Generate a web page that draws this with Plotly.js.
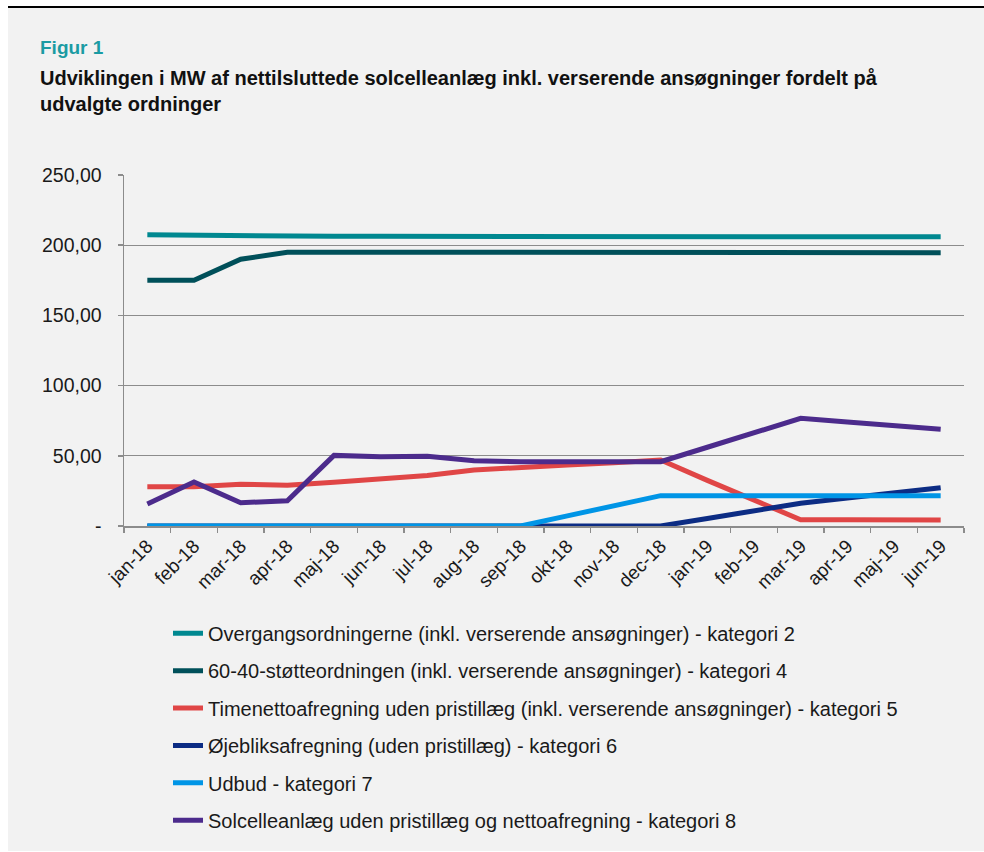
<!DOCTYPE html>
<html>
<head>
<meta charset="utf-8">
<script src="https://cdn.plot.ly/plotly-3.0.1.min.js"></script>
<style>
html,body{margin:0;padding:0;background:#ffffff;}
#frame{position:absolute;left:8px;top:6px;width:976px;height:843px;background:#f2f2f2;border-top:2px solid #000;}
#chart{position:absolute;left:0;top:0;width:984px;height:852px;}
</style>
</head>
<body>
<div id="frame"></div>
<div id="chart"></div>
<script>
const months = ["jan-18","feb-18","mar-18","apr-18","maj-18","jun-18","jul-18","aug-18","sep-18","okt-18","nov-18","dec-18","jan-19","feb-19","mar-19","apr-19","maj-19","jun-19"];

const overgang = [207.5,207.0,207.0,206.3,206.3,206.3,206.3,206.3,206.3,206.3,206.3,206.3,206.3,206.2,206.0,206.0,206.0,206.0];
const stotte6040 = [175.0,175.0,190.0,195.0,195.0,195.0,195.0,195.0,195.0,194.8,194.6,194.4,194.6,194.9,195.2,195.0,194.8,194.7];
const timenetto = [28.0,28.0,29.7,29.0,31.1,33.5,36.0,39.9,42.0,43.5,45.0,47.0,32.5,18.5,4.5,4.5,4.4,4.3];
const ojebliks = [0,0,0,0,0,0,0,0,0,0,0,0,5.4,10.8,16.2,19.9,23.6,27.3];
const udbud = [0,0,0,0,0,0,0,0,0,7.2,14.4,21.6,21.6,21.6,21.6,21.6,21.6,21.6];
const solcelle = [15.7,31.3,16.6,18.0,50.3,49.4,49.6,46.5,45.8,45.7,45.5,45.8,56.1,66.4,76.7,74.1,71.5,68.9];

const seriesNames = [
  "Overgangsordningerne (inkl. verserende ansøgninger) - kategori 2",
  "60-40-støtteordningen (inkl. verserende ansøgninger) - kategori 4",
  "Timenettoafregning uden pristillæg (inkl. verserende ansøgninger) - kategori 5",
  "Øjebliksafregning (uden pristillæg) - kategori 6",
  "Udbud - kategori 7",
  "Solcelleanlæg uden pristillæg og nettoafregning - kategori 8"
];
const seriesValues = [overgang, stotte6040, timenetto, ojebliks, udbud, solcelle];
const seriesColors = ["#008890","#00505a","#e04646","#0c2c84","#0095e6","#4c2b8c"];

const yTickVals = [0,50,100,150,200,250];
const yTickText = ["-","50,00","100,00","150,00","200,00","250,00"];

const traces = seriesValues.map((vals, i) => ({
  type: "scatter",
  mode: "lines",
  x: months,
  y: vals,
  name: seriesNames[i],
  legendgroup: "g" + i,
  line: {color: seriesColors[i], width: 5}
}));

const layout = {
  width: 984,
  height: 852,
  paper_bgcolor: "rgba(0,0,0,0)",
  plot_bgcolor: "rgba(0,0,0,0)",
  margin: {l: 124, r: 20, t: 175, b: 326, autoexpand: false},
  font: {family: "'Liberation Sans', Arial, sans-serif", color: "#1a1a1a", size: 20},
  showlegend: true,
  legend: {
    x: (168 - 124) / 840, xanchor: "left",
    y: -0.250, yanchor: "top",
    orientation: "v",
    bgcolor: "rgba(0,0,0,0)",
    font: {size: 20, color: "#1a1a1a"},
    tracegroupgap: 8.4
  },
  xaxis: {
    type: "category",
    range: [-0.5, 17.5],
    tickangle: -45,
    tickfont: {size: 19, color: "#1a1a1a"},
    showgrid: false,
    showline: true,
    linecolor: "#8c8c8c",
    linewidth: 1.5,
    ticks: "outside",
    tickson: "boundaries",
    ticklen: 5,
    tickcolor: "#8c8c8c",
    tickwidth: 1.5,
    zeroline: false,
    automargin: false
  },
  yaxis: {
    range: [0, 250],
    tickvals: yTickVals,
    ticktext: yTickText,
    tickfont: {size: 19.5, color: "#1a1a1a"},
    showgrid: true,
    gridcolor: "#8c8c8c",
    gridwidth: 1.3,
    showline: true,
    linecolor: "#8c8c8c",
    linewidth: 1.5,
    ticks: "outside",
    ticklen: 5,
    tickcolor: "#8c8c8c",
    tickwidth: 1.5,
    zeroline: false,
    ticklabelstandoff: 12,
    automargin: false
  },
  annotations: [
    {xref: "paper", yref: "paper", x: -86/840, y: 1 + (175-47)/351, xanchor: "left", yanchor: "middle",
     text: "<b>Figur 1</b>", showarrow: false, font: {size: 19, color: "#1b9ba3"}},
    {xref: "paper", yref: "paper", x: -86/840, y: 1 + (175-78)/351, xanchor: "left", yanchor: "middle",
     text: "<b>Udviklingen i MW af nettilsluttede solcelleanlæg inkl. verserende ansøgninger fordelt på</b>", showarrow: false, font: {size: 20, color: "#111111"}},
    {xref: "paper", yref: "paper", x: -86/840, y: 1 + (175-104)/351, xanchor: "left", yanchor: "middle",
     text: "<b>udvalgte ordninger</b>", showarrow: false, font: {size: 20, color: "#111111"}}
  ]
};

Plotly.newPlot("chart", traces, layout, {displayModeBar: false, staticPlot: true});
</script>
</body>
</html>
